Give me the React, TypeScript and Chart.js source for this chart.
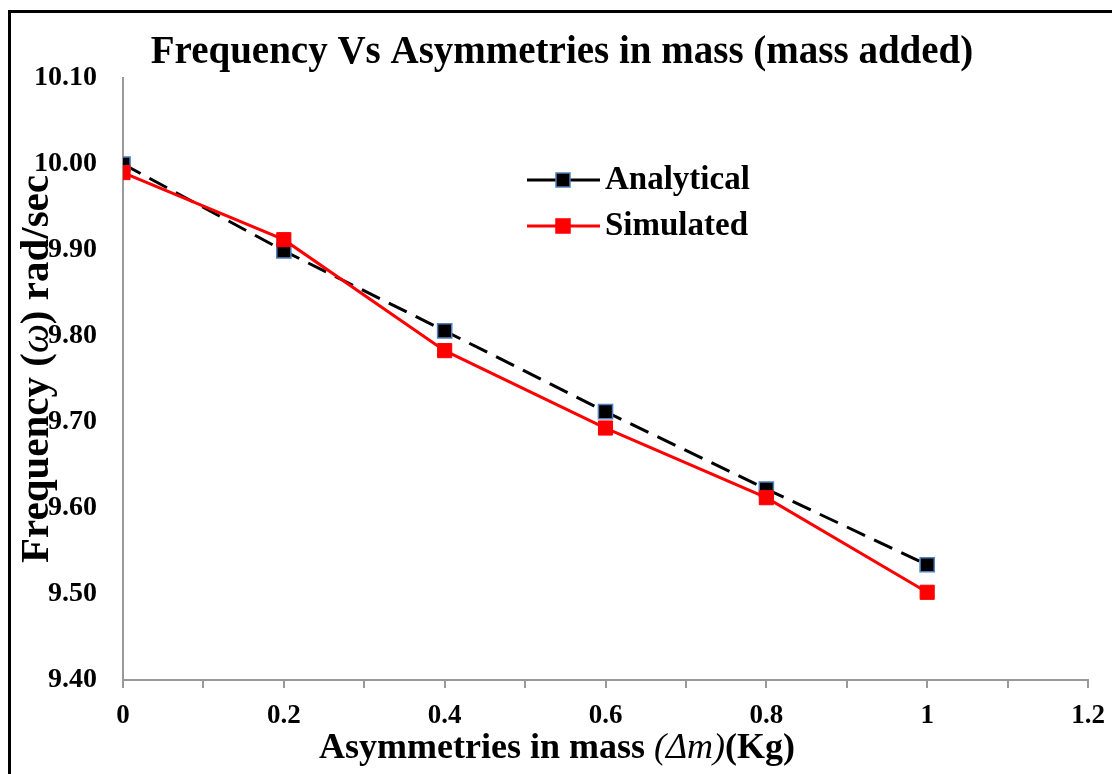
import React, { useEffect, useRef } from 'react';
import { Chart, registerables } from 'chart.js';

Chart.register(...registerables);

const massValues = [0, 0.2, 0.4, 0.6, 0.8, 1];
const analyticalFreq = [10.0, 9.899, 9.806, 9.712, 9.622, 9.534];
const simulatedFreq = [9.99, 9.912, 9.783, 9.693, 9.612, 9.502];
const seriesLabels = ['Analytical', 'Simulated'];
const chartTitle = 'Frequency Vs Asymmetries in mass (mass added)';
const yTitleParts: [string, string][] = [
  ['Frequency (', 'bold'],
  ['ω', 'italic'],
  [') rad/sec', 'bold'],
];
const xTitleParts: [string, string][] = [
  ['Asymmetries in mass ', 'bold'],
  ['(Δm)', 'italic'],
  ['(Kg)', 'bold'],
];

const FONT = '"Liberation Serif", "Times New Roman", serif';

function drawParts(
  ctx: CanvasRenderingContext2D,
  parts: [string, string][],
  size: number,
  cx: number,
  cy: number,
  rotate: boolean
) {
  ctx.save();
  ctx.translate(cx, cy);
  if (rotate) ctx.rotate(-Math.PI / 2);
  ctx.textBaseline = 'middle';
  ctx.textAlign = 'left';
  ctx.fillStyle = '#000';
  const fontFor = (style: string) =>
    style === 'italic' ? `italic ${size}px ${FONT}` : `bold ${size}px ${FONT}`;
  let total = 0;
  const widths = parts.map(([t, s]) => {
    ctx.font = fontFor(s);
    const w = ctx.measureText(t).width;
    total += w;
    return w;
  });
  let x = -total / 2;
  parts.forEach(([t, s], i) => {
    ctx.font = fontFor(s);
    ctx.fillText(t, x, 0);
    x += widths[i];
  });
  ctx.restore();
}

const decorPlugin = {
  id: 'decor',
  afterDraw(chart: any) {
    const ctx = chart.ctx as CanvasRenderingContext2D;
    // frame
    ctx.save();
    ctx.strokeStyle = '#000';
    ctx.lineWidth = 3;
    ctx.beginPath();
    ctx.moveTo(9.5, 774);
    ctx.lineTo(9.5, 11.5);
    ctx.lineTo(1112, 11.5);
    ctx.stroke();
    ctx.restore();

    drawParts(ctx, xTitleParts, 36, 557, 749, false);
    drawParts(ctx, yTitleParts, 41, 37, 369, true);

    // legend
    const legendY = [180, 226];
    chart.data.datasets.forEach((ds: any, i: number) => {
      const y = legendY[i];
      ctx.save();
      ctx.strokeStyle = ds.borderColor;
      ctx.lineWidth = ds.borderWidth;
      ctx.beginPath();
      ctx.moveTo(527, y);
      ctx.lineTo(600, y);
      ctx.stroke();
      ctx.fillStyle = ds.pointBackgroundColor;
      ctx.fillRect(556, y - 7, 14, 14);
      ctx.strokeStyle = ds.pointBorderColor;
      ctx.lineWidth = 1.5;
      ctx.strokeRect(556, y - 7, 14, 14);
      ctx.fillStyle = '#000';
      ctx.font = `bold 33px ${FONT}`;
      ctx.textBaseline = 'middle';
      ctx.textAlign = 'left';
      ctx.fillText(ds.label, 605, y);
      ctx.restore();
    });
  },
};

export default function App() {
  const ref = useRef<HTMLCanvasElement | null>(null);

  useEffect(() => {
    if (!ref.current) return;
    const chart = new Chart(ref.current, {
      type: 'line',
      data: {
        datasets: [
          {
            label: seriesLabels[0],
            data: massValues.map((x, i) => ({ x, y: analyticalFreq[i] })),
            borderColor: '#000000',
            borderWidth: 3,
            borderDash: [20, 10],
            pointStyle: 'rect',
            pointRadius: 10,
            pointBackgroundColor: '#000000',
            pointBorderColor: '#4f81bd',
            pointBorderWidth: 1.5,
            tension: 0,
            order: 2,
          },
          {
            label: seriesLabels[1],
            data: massValues.map((x, i) => ({ x, y: simulatedFreq[i] })),
            borderColor: '#ff0000',
            borderWidth: 3,
            pointStyle: 'rect',
            pointRadius: 10,
            pointBackgroundColor: '#ff0000',
            pointBorderColor: '#ff0000',
            pointBorderWidth: 1,
            tension: 0,
            order: 1,
          },
        ],
      },
      options: {
        responsive: false,
        animation: false,
        layout: { padding: { left: 36, right: 24, top: 0, bottom: 0 } },
        plugins: {
          legend: { display: false },
          tooltip: { enabled: false },
          title: {
            display: true,
            text: chartTitle,
            color: '#000',
            font: { family: FONT, size: 39, weight: 'bold', lineHeight: 1.2 },
            padding: { top: 30, bottom: 1.2 },
          },
        },
        scales: {
          x: {
            type: 'linear',
            min: 0,
            max: 1.2,
            ticks: {
              stepSize: 0.1,
              autoSkip: false,
              maxRotation: 0,
              color: '#000',
              padding: 12,
              font: { family: FONT, size: 27, weight: 'bold' },
              callback: (v: any) => {
                const r = Math.round(Number(v) * 10);
                return r % 2 === 0 ? String(r / 10) : '';
              },
            },
            grid: {
              drawOnChartArea: false,
              drawTicks: true,
              tickLength: 8,
              color: '#999',
              lineWidth: 2,
            },
            border: { display: true, color: '#999', width: 2 },
            afterFit: (s: any) => {
              s.height = 94;
              s.paddingLeft = 0;
              s.paddingRight = 0;
            },
          },
          y: {
            type: 'linear',
            min: 9.4,
            max: 10.1,
            ticks: {
              stepSize: 0.1,
              color: '#000',
              padding: 18,
              font: { family: FONT, size: 28, weight: 'bold' },
              callback: (v: any) => Number(v).toFixed(2),
            },
            grid: { display: false },
            border: { display: true, color: '#999', width: 2 },
            afterFit: (s: any) => {
              s.width = 87;
            },
          },
        },
      },
      plugins: [decorPlugin],
    } as any);
    return () => chart.destroy();
  }, []);

  return (
    <div style={{ position: 'absolute', left: 0, top: 0, width: 1112, height: 774, background: '#fff' }}>
      <canvas ref={ref} width={1112} height={774} style={{ display: 'block' }} />
    </div>
  );
}
